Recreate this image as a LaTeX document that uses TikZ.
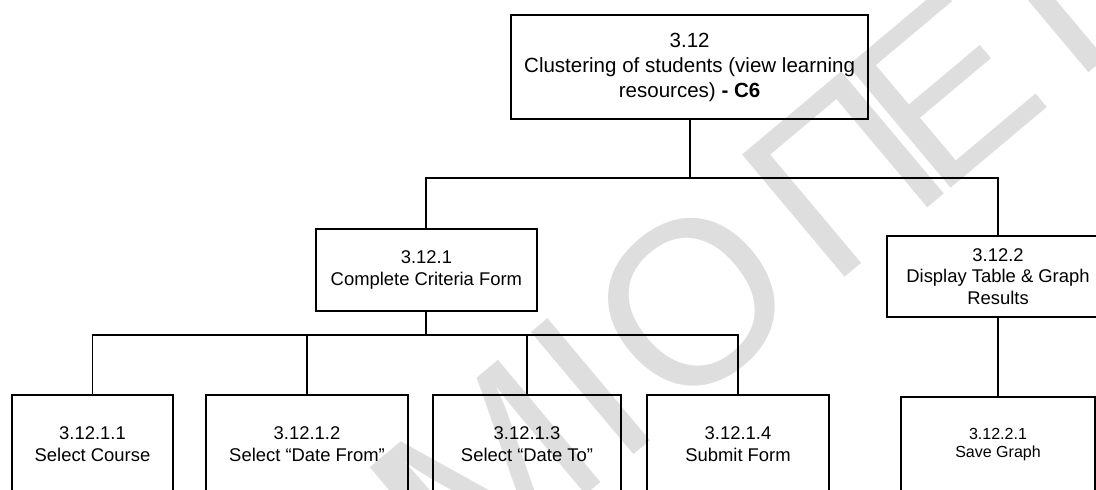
\documentclass[tikz,border=0pt]{standalone}
\usepackage{fontspec}
\setmainfont{Liberation Sans}
\usetikzlibrary{positioning,calc}

\begin{document}
\begin{tikzpicture}[
  box/.style={draw=black, line width=1.4pt, align=center, inner sep=0pt, font=\fontsize{13.1}{15.4}\selectfont},
  link/.style={draw=black, line width=1.4pt},
  stamp/.style={text=black!13, font=\fontsize{165}{165}\selectfont, rotate=40, inner sep=0pt}
]
\clip (0,0) rectangle (27.4,-12.225);

\coordinate (stampO) at (17.3,-7.55);
\foreach \ch/\k [count=\i] in {Π/-11,Α/-10,Ν/-9,Ε/-8,Π/-7,Ι/-6,Σ/-5,Τ/-4,Η/-3,Μ/-2,Ι/-1,Ο/0,Π/1.5,Ε/2.5,Ι/3.5,Ρ/4.5,Α/5.5,Ι/6.5,Ω/7.5,Σ/8.5}
  \node[stamp] (stamp\i) at ($(stampO)+(40:\k*3.3)$) {\ch};

\node[box, minimum width=8.925cm, minimum height=2.6cm, font=\fontsize{14.6}{17.8}\selectfont] (root) at (17.24,-1.675)
  {3.12\\Clustering of students (view learning\\resources) \textbf{- C6}};

\node[box, minimum width=5.525cm, minimum height=2.05cm] (crit) at (10.66,-6.75) {3.12.1\\Complete Criteria Form};
\node[box, minimum width=5.55cm, minimum height=2.025cm] (disp) at (24.95,-6.9125) {3.12.2\\Display Table \& Graph\\Results};

\node[box, minimum width=4.025cm, minimum height=2.45cm] (course) at (2.3125,-11.1) {3.12.1.1\\Select Course};
\node[box, minimum width=5.05cm, minimum height=2.45cm] (from) at (7.675,-11.1) {3.12.1.2\\Select “Date From”};
\node[box, minimum width=4.7cm, minimum height=2.45cm] (to) at (13.175,-11.1) {3.12.1.3\\Select “Date To”};
\node[box, minimum width=4.55cm, minimum height=2.45cm] (submit) at (18.45,-11.1) {3.12.1.4\\Submit Form};
\node[box, minimum width=4.85cm, minimum height=2.4cm, font=\fontsize{11.4}{12.8}\selectfont] (save) at (24.95,-11.125) {3.12.2.1\\Save Graph};

\coordinate (bus1) at (17.24,-4.45);
\coordinate (bus2) at (10.66,-8.375);

\draw[link] (root) -- (bus1);
\draw[link] (bus1) -| (crit);
\draw[link] (bus1) -| (disp);
\draw[link] (crit) -- (bus2);
\draw[link] (bus2) -| (course);
\draw[link] (bus2) -| (from);
\draw[link] (bus2) -| (to);
\draw[link] (bus2) -| (submit);
\draw[link] (disp) -- (save);
\end{tikzpicture}
\end{document}
